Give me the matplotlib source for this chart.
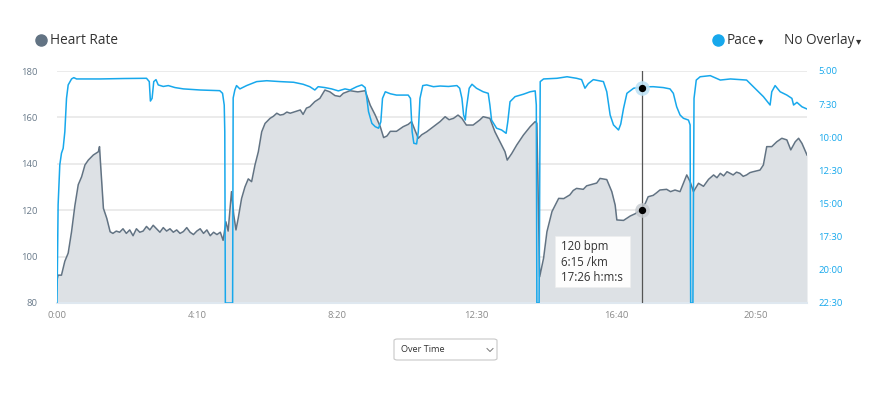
"""Run detail chart: heart rate (filled) with pace overlay, hover readout at 17:26."""
import matplotlib
matplotlib.use("Agg")
import matplotlib.pyplot as plt
from matplotlib.patches import FancyBboxPatch
from matplotlib.lines import Line2D

plt.rcParams["font.family"] = ["Open Sans", "DejaVu Sans"]

HR_LINE = "#627383"
HR_FILL = "#dde1e5"
PACE = "#17a8ec"
GRID = "#e8e8e8"
TXT = "#333333"

# --- data ------------------------------------------------------------
# heart rate: elapsed seconds, bpm
hr_t = [0, 2, 8, 14, 20, 26, 32, 38, 44, 50, 56, 65, 74, 76, 78, 83, 89, 95,
        100, 106, 112, 118, 124, 130, 136, 142, 148, 154, 160, 166, 172, 178,
        184, 190, 196, 202, 208, 214, 220, 226, 232, 238, 244, 250, 256, 262,
        268, 274, 280, 286, 292, 297, 302, 306, 312, 316, 320, 324, 330, 336,
        342, 348, 354, 360, 366, 372, 381, 387, 393, 399, 405, 411, 417, 426,
        435, 440, 446, 452, 461, 470, 479, 488, 497, 506, 512, 524, 538, 551,
        560, 569, 578, 584, 590, 596, 607, 619, 628, 634, 640, 646, 652, 661,
        673, 685, 694, 701, 709, 717, 724, 732, 744, 756, 762, 774, 783, 792,
        801, 805, 813, 822, 834, 846, 855, 858, 863, 870, 876, 885, 891, 897,
        906, 917, 923, 929, 941, 947, 953, 965, 971, 983, 992, 998, 1001, 1013,
        1025, 1034, 1043, 1052, 1057, 1066, 1072, 1078, 1090, 1097, 1105, 1114,
        1120, 1126, 1132, 1138, 1147, 1156, 1165, 1174, 1180, 1186, 1192, 1198,
        1209, 1215, 1221, 1227, 1233, 1239, 1245, 1257, 1263, 1269, 1278, 1287,
        1296, 1305, 1312, 1320, 1326, 1332, 1341]
hr_bpm = [90, 92, 92, 98, 101.5, 110.7, 122, 131, 134.4, 139.5, 141.6, 143.8,
          145.2, 147.4, 139.5, 120.8, 116.5, 110.7,
          110, 111, 110.5, 112, 110, 111.5, 109, 112, 110.5, 111, 113, 111.5,
          113.5, 112, 110.5, 112.5, 111, 112, 110.5, 111.5, 110, 110.8, 112.5,
          110.5, 109.5, 111, 112, 110, 111.5, 109, 110.5, 109.5, 110.5, 107,
          115, 111, 128, 118, 111.5, 116.5, 125, 130, 133.5, 132.3, 139.5,
          145.2, 153.8, 157.4, 159.6, 160.5, 161.8, 161, 161.3, 162.3, 161.8,
          162.5, 163.2, 161.3, 164, 164.6, 166.8, 168.2, 171.8, 171, 169.4, 169,
          170.4, 171.5, 171, 171.5, 165.3, 161, 156, 151.3, 152, 154, 154, 156,
          157, 158.2, 154.5, 151, 152.5, 153.8, 156, 158.2, 160.3, 159, 159.6,
          161, 159.6, 156.7, 156.7, 158.9, 160.3, 159.6, 153.8, 149.5, 145.2,
          141.6, 144.4, 148.1, 152.4, 156, 158.2, 157.5, 91.3, 99.3, 110.7,
          119.4, 122.2, 125.1, 125, 126.6, 128.5, 129.4, 129, 130.5, 130.9,
          131.7, 133.7, 133.2, 128, 122.2, 115.8, 115.6, 117.5, 118.5, 120.1,
          123, 125.8, 126.4, 127.5, 128.7, 129, 128, 128.7, 128, 131.6, 135.2,
          132.3, 128, 131.6, 130.3, 133.3, 135.2, 134, 135.9, 134.8, 136.6,
          135.2, 136.4, 135.9, 134.6, 135.2, 136.2, 136.6, 137.3, 139.5, 147.4,
          147.4, 149.5, 151, 150.3, 146, 149.5, 151, 148.8, 143.8]

# pace: elapsed seconds, seconds per km (1350 = off the bottom of the scale)
pace_t = [0, 2, 5, 8, 11, 14, 17, 20, 26, 30, 35, 77, 120, 160, 165, 167, 170,
          173, 177, 181, 190, 199, 211, 226, 256, 291, 296, 299, 300, 301, 314,
          315, 318, 321, 327, 339, 357, 375, 399, 423, 440, 452, 461, 467, 479,
          491, 503, 515, 524, 536, 545, 551, 554, 557, 563, 569, 575, 579, 582,
          587, 596, 607, 628, 632, 635, 638, 643, 646, 649, 654, 661, 673, 685,
          700, 715, 720, 724, 727, 730, 732, 737, 742, 750, 762, 771, 774, 777,
          786, 795, 803, 806, 810, 819, 834, 846, 855, 857, 858, 862, 864, 870,
          894, 912, 929, 938, 944, 950, 959, 977, 983, 989, 995, 1004, 1008,
          1013, 1019, 1031, 1046, 1066, 1084, 1096, 1102, 1108, 1114, 1120,
          1129, 1132, 1133, 1137, 1139, 1143, 1150, 1168, 1186, 1204, 1233,
          1245, 1263, 1275, 1278, 1284, 1293, 1305, 1314, 1317, 1323, 1332, 1341]
pace_s = [1350, 906, 725, 672, 650, 575, 424, 363, 336, 330, 336, 336, 334,
          333, 348, 436, 424, 348, 339, 363, 370, 366, 375, 381, 386, 389, 401,
          454, 575, 1350, 1350, 422, 386, 366, 381, 366, 348, 344, 348, 351,
          360, 371, 386, 371, 375, 381, 390, 381, 386, 371, 363, 375, 424, 484,
          537, 552, 559, 530, 424, 394, 403, 409, 409, 424, 575, 627, 630, 575,
          424, 366, 363, 371, 368, 370, 366, 378, 424, 499, 522, 469, 378, 360,
          378, 394, 401, 454, 522, 559, 567, 582, 530, 439, 416, 405, 394, 390,
          454, 1350, 1350, 348, 336, 333, 326, 333, 339, 378, 357, 339, 348,
          394, 499, 544, 567, 540, 469, 401, 378, 372, 371, 375, 381, 401, 462,
          499, 514, 522, 544, 1350, 1350, 424, 341, 326, 321, 341, 336, 341,
          371, 416, 454, 394, 366, 394, 409, 424, 454, 442, 462, 472]

hr_ticks = [80, 100, 120, 140, 160, 180]
pace_ticks = [300, 450, 600, 750, 900, 1050, 1200, 1350]
pace_labels = ["5:00", "7:30", "10:00", "12:30", "15:00", "17:30", "20:00", "22:30"]
time_ticks = [0, 250, 500, 750, 1000, 1250]
time_labels = ["0:00", "4:10", "8:20", "12:30", "16:40", "20:50"]

hover_t, hover_hr, hover_pace = 1046, 120, 375
tooltip = "120 bpm\n6:15 /km\n17:26 h:m:s"

# --- figure ----------------------------------------------------------
W, H = 869, 400
fig = plt.figure(figsize=(W / 100, H / 100), dpi=100)
ax = fig.add_axes([57 / W, 1 - 303 / H, 750 / W, 232 / H])
ax2 = ax.twinx()


def fx(px):
    return px / W


def fy(py):
    return 1 - py / H


ax.fill_between(hr_t, hr_bpm, 80, color=HR_FILL, lw=0, zorder=1)
ax.plot(hr_t, hr_bpm, color=HR_LINE, lw=1.1, zorder=3)
ax2.plot(pace_t, pace_s, color=PACE, lw=1.1, zorder=3, solid_joinstyle="round")

ax.set_xlim(0, 1341)
ax.set_ylim(80, 180)
ax2.set_ylim(1350, 300)

ax.set_yticks(hr_ticks)
ax.set_xticks(time_ticks)
ax.set_xticklabels(time_labels)
ax2.set_yticks(pace_ticks)
ax2.set_yticklabels(pace_labels)

ax.grid(axis="y", color=GRID, lw=1.2, zorder=0)
ax.set_axisbelow(True)
for a in (ax, ax2):
    for s in a.spines.values():
        s.set_visible(False)
ax.spines["bottom"].set_visible(True)
ax.spines["bottom"].set_color("#dfe8f0")
ax.spines["bottom"].set_linewidth(1.5)

ax.tick_params(axis="y", length=0, pad=14, labelsize=6.8, labelcolor="#6a7b8b")
ax.tick_params(axis="x", length=0, pad=6, labelsize=6.8, labelcolor="#8a8a8a")
ax2.tick_params(axis="y", length=0, pad=8, labelsize=6.8, labelcolor=PACE)

# hover crosshair and markers
ax.axvline(hover_t, color="#555555", lw=0.9, zorder=4)
ax.scatter([hover_t], [hover_hr], s=110, color="#c4c9ce", alpha=0.8, lw=0, zorder=5)
ax.scatter([hover_t], [hover_hr], s=18, color="black", zorder=6)
ax2.scatter([hover_t], [hover_pace], s=110, color="#bfe3f6", alpha=0.9, lw=0, zorder=5)
ax2.scatter([hover_t], [hover_pace], s=18, color="black", zorder=6)

# tooltip box
fig.patches.append(FancyBboxPatch((fx(555), fy(287)), 75 / W, 51 / H,
                                  boxstyle="square,pad=0", transform=fig.transFigure,
                                  facecolor="white", edgecolor="#eeeeee", lw=0.5,
                                  alpha=0.95, zorder=10))
fig.text(fx(561), fy(262), tooltip, fontsize=8.3, color=TXT, va="center",
         ha="left", linespacing=1.25, zorder=11)

# legend row
for cx, col in ((41, HR_LINE), (718, PACE)):
    fig.lines.append(Line2D([fx(cx)], [fy(40)], transform=fig.transFigure,
                            marker="o", markersize=8, color=col, lw=0))
fig.text(fx(50), fy(40), "Heart Rate", fontsize=9.8, color=TXT, va="center", zorder=11)
t_pace = fig.text(fx(727), fy(40), "Pace", fontsize=9.8, color=TXT, va="center", zorder=11)
t_over = fig.text(fx(784), fy(40), "No Overlay", fontsize=9.8, color=TXT, va="center",
                  zorder=11)

# small dropdown carets right after the two selector labels
fig.canvas.draw()
rend = fig.canvas.get_renderer()
for t in (t_pace, t_over):
    bb = t.get_window_extent(rend)
    fig.text((bb.x1 + 1) / W, fy(41), "▾", fontsize=7.5, color=TXT, va="center",
             family=["DejaVu Sans"], zorder=11)

# "Over Time" dropdown
fig.patches.append(FancyBboxPatch((fx(394), fy(360)), 103 / W, 21 / H,
                                  boxstyle="round,pad=0,rounding_size=0.004",
                                  transform=fig.transFigure, facecolor="white",
                                  edgecolor="#c8c8c8", lw=0.8, zorder=5))
fig.text(fx(401), fy(350), "Over Time", fontsize=6.6, color=TXT, va="center", zorder=11)
fig.lines.append(Line2D([fx(487), fx(490), fx(493)], [fy(348.5), fy(351.5), fy(348.5)],
                        transform=fig.transFigure, color="#777777", lw=0.7, zorder=11))

fig.savefig("out.png", dpi=100, facecolor="white")
